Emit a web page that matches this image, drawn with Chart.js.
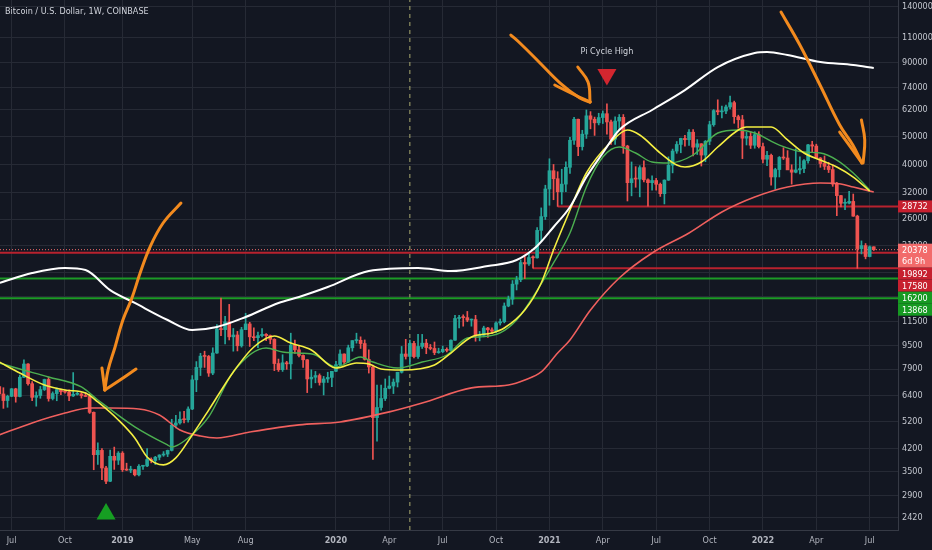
<!DOCTYPE html>
<html>
<head>
<meta charset="utf-8">
<script src="https://cdn.jsdelivr.net/npm/chart.js@4.4.1/dist/chart.umd.min.js"></script>
<style>
  html, body { margin: 0; padding: 0; background: #131722; }
  #wrap { width: 932px; height: 550px; }
</style>
</head>
<body>
<div id="wrap"><canvas id="btc" width="932" height="550"></canvas></div>
<script>
// weekly candles, week 0 = Mon 11 Jun 2018, last = 11 Jul 2022
const opens = [6870,6480,6150,6360,6750,6350,7400,8220,7030,6310,6400,6710,7270,6250,6500,6710,6600,6580,6380,6460,6480,6400,6350,5600,4000,4140,3600,3240,3950,3830,
  4050,3550,3540,3550,3410,3650,3660,3850,3820,3920,3990,4020,4140,5060,5150,5300,5280,5750,7250,8000,8750,8730,7650,8970,10850,10800,11480,10200,10350,9500,
  10800,11300,10200,10130,10300,10400,10300,10000,8250,7860,8300,8230,9550,9200,8800,8500,7300,7400,7500,7100,7300,7390,
  7760,8180,8900,8350,9350,9900,9920,9670,8530,8030,5370,5820,6250,6780,6900,7120,7700,8900,8730,9680,8720,9450,9700,9370,9300,9000,9070,9240,9160,9930,
  11800,11900,11880,11650,11700,10250,10320,10940,10780,10670,11390,11500,13030,13750,15500,16050,18400,18200,19150,19100,23750,26500,
  33000,38150,35800,32280,34300,39200,48580,57400,46200,51000,59000,57400,55800,58200,60000,56200,49000,56600,58300,46400,34700,35800,35700,39100,35500,34700,
  35300,34250,31800,35400,39850,44600,47000,49300,48800,51800,46000,47250,43200,48200,55000,61500,60900,61300,63300,65500,58600,57200,49400,50100,46700,50800,
  46200,41800,43100,36300,38500,42400,42200,38400,37700,38400,38800,41300,46850,46400,42200,40400,39500,38500,34300,31300,29450,29500,29900,26600,20550,21050,19300,20850];
const highs = [6900,6810,6420,6770,6780,7530,8490,8250,7150,6590,6880,7290,7410,6590,6790,6740,6680,6690,7680,6600,6550,6550,6480,5620,4400,4200,3650,4150,4250,4100,
  4100,3740,3650,3560,3700,3680,4200,3900,3950,4000,4100,4150,5300,5470,5620,5650,5850,7500,8380,8950,9100,8800,9350,11250,13880,12000,13200,10900,10650,11000,
  12300,11450,10950,10600,10900,10470,10350,10050,8550,8850,8400,10500,9950,9500,8850,8520,7850,7750,7600,7450,7700,7500,
  8400,9200,8920,9550,9900,10500,10200,9950,9200,8150,6950,6950,7300,7470,7300,7700,9450,10000,9950,9850,10400,10400,10000,9600,9790,9320,9480,9350,9970,12100,
  12100,12150,12480,11750,12100,10650,11100,10990,10950,11500,11750,13350,14100,15950,16500,18800,19400,19900,19400,24300,28400,34000,
  41950,40100,37850,38600,40950,49700,58350,57500,52600,61800,61000,58400,60200,61300,64900,57000,58500,59600,59600,46700,40900,39400,39700,41300,35800,36600,
  35900,34600,35500,42600,45300,48100,49400,50500,52900,52900,48850,47300,48500,56500,62000,67000,63700,64300,69000,66300,59300,59200,51900,52000,52000,52000,
  47500,44500,43500,38900,42700,45800,44750,40000,45400,42600,41700,47000,48200,47100,42400,42900,40800,40000,34800,31400,30500,32400,31700,26800,21850,21400,21000,20850];
const lows = [6280,5780,5830,6340,6070,6330,7380,6950,6150,5880,6260,6660,6120,6180,6140,6440,6520,6150,6350,6420,6270,6340,5550,3550,3700,3280,3180,3230,3560,3700,
  3500,3530,3470,3380,3380,3560,3640,3750,3700,3840,3950,3940,4120,4950,5100,5150,5180,5720,6600,7500,8000,7450,7550,8950,10300,9650,9950,9100,9120,9400,
  10800,9450,9900,9350,10200,9900,9650,7800,7750,7750,7880,7300,8950,8700,8000,6550,6800,7080,6950,6430,7100,6860,
  7740,8100,8250,8320,9100,9700,9300,8480,7650,3850,4450,5700,6150,6750,6500,6850,7650,8550,8200,8630,8600,9300,8920,9200,8850,8950,9000,9050,9150,9920,
  10950,11100,11500,11100,9850,9880,10200,10150,10450,10540,11200,11400,12950,13200,14800,15800,16200,18000,17580,19050,21800,25900,
  29000,30300,28732,29250,32300,37350,47000,43000,44950,49300,53200,50500,54900,55500,51000,47000,47000,52800,43800,30000,31250,33450,31000,34900,28800,32700,
  32700,31100,29300,35300,37500,43800,44000,46350,46600,42900,43400,39600,41000,46900,54300,59500,58000,60000,62300,55600,53500,42000,46800,45500,45600,45700,
  40600,39700,34000,32900,36300,41700,39500,34300,37500,37200,37600,40500,44200,42100,39200,38500,37600,33700,26700,28600,28000,29300,26550,17580,19700,18950,19250,20250];
const closes = [6480,6150,6360,6750,6350,7400,8220,7030,6310,6400,6710,7270,6250,6500,6710,6600,6580,6380,6460,6480,6400,6350,5600,4000,4140,3600,3240,3950,3830,4050,
  3550,3540,3550,3410,3650,3660,3850,3820,3920,3990,4020,4140,5060,5150,5300,5280,5750,7250,8000,8750,8730,7650,8970,10850,10800,11480,10200,10350,9500,10800,
  11300,10200,10130,10300,10400,10300,10000,8250,7860,8300,8230,9550,9200,8800,8500,7300,7400,7500,7100,7300,7390,7760,
  8180,8900,8350,9350,9900,9920,9670,8530,8030,5370,5820,6250,6780,6900,7120,7700,8900,8730,9680,8720,9450,9700,9370,9300,9000,9070,9240,9160,9930,11800,
  11900,11880,11650,11700,10250,10320,10940,10780,10670,11390,11500,13030,13750,15500,16050,18400,18200,19150,19100,23750,26500,33000,
  38150,35800,32280,34300,39200,48580,57400,46200,51000,59000,57400,55800,58200,60000,56200,49000,56600,58300,46400,34700,35800,35700,39100,35500,34700,35300,
  34250,31800,35400,39850,44600,47000,49300,48800,51800,46000,47250,43200,48200,55000,61500,60900,61300,63300,65500,58600,57200,49400,50100,46700,50800,46200,
  41800,43100,36300,38500,42400,42200,38400,37700,38400,38800,41300,46850,46400,42200,40400,39500,38500,34300,31300,29450,29500,29900,26600,20550,21050,19300,20850,20378];

const whiteWeeks = [0,8,16,21,27,33,41,47,53,60,68,73,80,90,102,110,119,126,131,135,139,143,147,151,159,167,175,184,187,192,200,208,213];
const whiteVals = [15640,16930,17620,17340,14790,13350,11660,10770,11030,11940,13350,14000,15150,17200,17620,17200,17900,18770,20980,24400,28600,36280,43910,52700,61780,72400,86900,97100,97900,95600,90400,88300,86240];
const redWeeks = [0,8,16,22,27,34,39,44,49,53,61,73,83,95,103,115,124,128,132,136,139,144,151,159,168,176,184,192,200,205,208,213];
const redVals = [4680,5150,5570,5800,5800,5750,5480,4870,4640,4570,4790,5070,5190,5620,6030,6800,6960,7240,7720,8970,9950,12620,16270,19850,23260,27490,30950,33520,34600,34330,33520,32220];
const yellowWeeks = [0,5,11,16,21,24,29,33,36,40,43,47,51,57,62,67,71,76,82,87,90,93,98,106,110,115,120,123,128,132,135,138,143,149,153,156,161,165,167,171,175,180,182,188,192,196,200,204,208,212];
const yellowVals = [8350,7650,6960,6690,6530,6080,5270,4570,3930,3690,3900,4680,5700,7720,9410,10270,9710,9190,7960,8290,8220,7900,7840,8160,8970,10190,10520,10940,12620,15640,20330,25790,37460,47920,52700,50660,43910,39920,39290,40880,46050,52700,53970,53970,48700,43910,41530,39290,36280,32470];
const greenWeeks = [0,5,12,20,24,33,41,42,46,51,57,65,69,73,77,82,88,91,97,103,109,114,117,122,126,130,135,139,143,147,151,155,159,163,169,175,180,184,190,196,200,204,208,212];
const greenVals = [8285,7900,7415,6850,6180,4990,4320,4255,4570,5400,7720,9335,9040,8970,8830,8025,8690,8350,7960,8350,8830,10110,10190,10520,11660,14000,18340,23260,33520,42540,46050,43910,40880,40570,43220,51470,52700,51470,46780,44260,43910,41530,37460,32730];

// horizontal levels
const rayVals = [28732, 19892, 17580, 16200, 13868];
const rayStart = [136, 0, 130, 0, 0];
const rayColors = ['#b8222e', '#b8222e', '#b8222e', '#1c9a26', '#1c9a26'];
const lastPrice = 20378;
const tagVals = [28732, 20378, 19892, 17580, 16200, 13868];
const tagColors = ['#c7202f', '#f26b6b', '#c7202f', '#c7202f', '#169a22', '#169a22'];

// axes
const yTicks = [2420, 2900, 3500, 4200, 5200, 6400, 7900, 9500, 11500, 14000, 17000, 21000, 26000, 32000, 40000, 50000, 62000, 74000, 90000, 110000, 140000];
const xTickWeeks = [3, 16, 30, 47, 60, 82, 95, 108, 121, 134, 147, 160, 173, 186, 199, 212];
const xTickLabels = ['Jul', 'Oct', '2019', 'May', 'Aug', '2020', 'Apr', 'Jul', 'Oct', '2021', 'Apr', 'Jul', 'Oct', '2022', 'Apr', 'Jul'];
const halvingWeek = 100;

// signals and hand-drawn arrows (week, price)
const piHigh = { week: 148, price: 81880 };
const cycleLow = { week: 26, price: 2499 };
const arrows = [
  [[44.25,29520],[39.9,25190],[36.7,20810],[34.3,16930],[32.3,13890],[30.1,11660],[28.2,9410],[26.5,7840],[25.7,6688]],
  [[33.3,7900],[29.5,7250],[25.7,6688]],
  [[25.0,7962],[25.7,6688]],
  [[124.6,112000],[126.8,105170],[131.7,89740],[136.6,76540],[141.4,67960],[143.9,65830]],
  [[135.3,75340],[140.2,69600],[143.9,65830]],
  [[140.9,86920],[143.4,77160],[143.9,65830]],
  [[190.4,134500],[195,103500],[199.9,75340],[204.7,54840],[207.9,46780],[210.1,40570]],
  [[204.7,51880],[210.1,40570]],
  [[210,57050],[210.8,48700],[210.4,40570]]
];

const FONT = "'Liberation Sans Narrow', 'DejaVu Sans Condensed', 'Liberation Sans', sans-serif";
const UP = '#26a69a', DOWN = '#ef5350';
const X_MIN = 0.17, X_MAX = 218.9, Y_MIN = 2200, Y_MAX = 148000;

const weeks = opens.map((_, i) => i);
const candleColors = weeks.map(i => closes[i] >= opens[i] ? UP : DOWN);
const pts = (xs, ys) => xs.map((x, i) => ({ x: x, y: ys[i] }));

const maLine = (label, xs, ys, color, width, order) => ({
  type: 'line', label, data: pts(xs, ys), borderColor: color, borderWidth: width,
  pointRadius: 0, cubicInterpolationMode: 'monotone', order
});

const datasets = [
  {
    type: 'bar', label: 'wicks', data: weeks.map(i => ({ x: i, y: [lows[i], highs[i]] })),
    backgroundColor: candleColors, barThickness: 1, grouped: false, order: 7
  },
  {
    type: 'bar', label: 'bodies',
    data: weeks.map(i => ({ x: i, y: [Math.min(opens[i], closes[i]), Math.max(opens[i], closes[i])] })),
    backgroundColor: candleColors, barThickness: 3, minBarLength: 1, grouped: false, order: 6
  },
  maLine('red', redWeeks, redVals, '#f0605e', 1.6, 5),
  maLine('green', greenWeeks, greenVals, '#4caf50', 1.4, 4),
  maLine('yellow', yellowWeeks, yellowVals, '#f5ef42', 1.6, 3),
  maLine('white', whiteWeeks, whiteVals, '#ffffff', 2, 2),
  {
    type: 'line', label: 'halving', data: [{ x: halvingWeek, y: Y_MIN }, { x: halvingWeek, y: Y_MAX }],
    borderColor: '#a9a96f', borderWidth: 1, borderDash: [4, 4], pointRadius: 0, order: 9
  },
  {
    type: 'line', label: 'last', data: [{ x: X_MIN, y: lastPrice }, { x: X_MAX, y: lastPrice }],
    borderColor: '#f26b6b', borderWidth: 1, borderDash: [1, 2], pointRadius: 0, order: 8
  },
  {
    type: 'scatter', label: 'pi', data: [{ x: piHigh.week, y: piHigh.price }],
    pointStyle: 'triangle', rotation: 180, pointRadius: 11, backgroundColor: '#d3262f', borderWidth: 0, order: 1
  },
  {
    type: 'scatter', label: 'low', data: [{ x: cycleLow.week, y: cycleLow.price }],
    pointStyle: 'triangle', pointRadius: 11, backgroundColor: '#169e22', borderWidth: 0, order: 1
  }
];

rayVals.forEach((v, i) => {
  datasets.push({
    type: 'line', label: 'ray' + i, data: [{ x: rayStart[i], y: v }, { x: X_MAX, y: v }],
    borderColor: rayColors[i], borderWidth: 2, pointRadius: 0, order: 8
  });
});

arrows.forEach((a, i) => {
  datasets.push({
    type: 'line', label: 'arrow' + i, data: a.map(p => ({ x: p[0], y: p[1] })),
    borderColor: '#f28a1e', borderWidth: 3, borderCapStyle: 'round', borderJoinStyle: 'round',
    pointRadius: 0, tension: 0.4, order: 0
  });
});

const decor = {
  id: 'decor',
  beforeDraw(chart) {
    const c = chart.ctx;
    c.save();
    c.fillStyle = '#131722';
    c.fillRect(0, 0, chart.width, chart.height);
    c.restore();
  },
  afterDatasetsDraw(chart) {
    const c = chart.ctx, xs = chart.scales.x, ys = chart.scales.y;
    c.save();
    c.fillStyle = '#d1d4dc';
    c.font = '9px ' + FONT;
    c.textAlign = 'center';
    c.textBaseline = 'middle';
    c.fillText('Pi Cycle High', xs.getPixelForValue(piHigh.week), ys.getPixelForValue(piHigh.price) - 23);
    c.restore();
  },
  afterDraw(chart) {
    const c = chart.ctx, ys = chart.scales.y, area = chart.chartArea;
    c.save();
    // title
    c.fillStyle = '#d1d4dc';
    c.font = '9px ' + FONT;
    c.textAlign = 'left';
    c.textBaseline = 'middle';
    c.fillText('Bitcoin / U.S. Dollar, 1W, COINBASE', 5, 12);
    // price tags on the right axis, stacked so they do not overlap
    let prevBottom = -1;
    tagVals.forEach((v, i) => {
      const two = v === lastPrice;
      const h = two ? 24 : 12;
      let top = ys.getPixelForValue(v) - 6;
      if (top < prevBottom) top = prevBottom;
      prevBottom = top + h;
      c.fillStyle = tagColors[i];
      c.fillRect(area.right, top, chart.width - area.right, h);
      c.fillStyle = '#ffffff';
      c.font = '9px ' + FONT;
      c.fillText(String(v), area.right + 4, top + 6.5);
      if (two) c.fillText('6d 9h', area.right + 4, top + 18);
    });
    c.restore();
  }
};

Chart.defaults.font.family = FONT;

new Chart(document.getElementById('btc'), {
  type: 'bar',
  data: { datasets },
  options: {
    responsive: false,
    animation: false,
    layout: { padding: 0, autoPadding: false },
    plugins: { legend: { display: false }, tooltip: { enabled: false } },
    scales: {
      x: {
        type: 'linear', min: X_MIN, max: X_MAX, offset: false,
        grid: { color: '#262a35', offset: false, drawTicks: false },
        border: { color: '#363a45' },
        afterBuildTicks: s => { s.ticks = xTickWeeks.map(v => ({ value: v })); },
        afterFit: s => { s.height = 20; s.paddingLeft = 0; s.paddingRight = 0; },
        ticks: {
          autoSkip: false, maxRotation: 0, padding: 5, color: '#b2b5be',
          font: ctx => ({ size: 9, weight: /^\d+$/.test(xTickLabels[xTickWeeks.indexOf(ctx.tick ? ctx.tick.value : -1)] || '') ? 'bold' : 'normal' }),
          callback: v => xTickLabels[xTickWeeks.indexOf(v)]
        }
      },
      y: {
        type: 'logarithmic', position: 'right', min: Y_MIN, max: Y_MAX,
        grid: { color: '#262a35', drawTicks: false },
        border: { color: '#363a45' },
        afterBuildTicks: s => { s.ticks = yTicks.map(v => ({ value: v })); },
        afterFit: s => { s.width = 34; s.paddingTop = 0; s.paddingBottom = 0; },
        ticks: { padding: 4, color: '#c3c6ce', font: { size: 9 }, callback: v => String(v) }
      }
    }
  },
  plugins: [decor]
});
</script>
</body>
</html>
